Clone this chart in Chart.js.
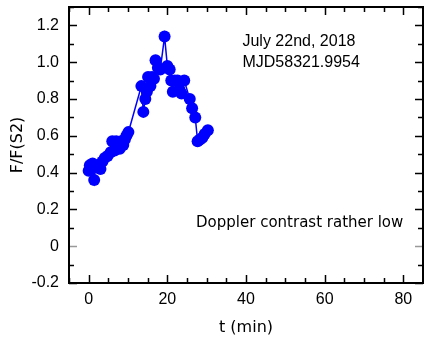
<!DOCTYPE html>
<html>
<head>
<meta charset="utf-8">
<script src="https://cdn.jsdelivr.net/npm/chart.js@4"></script>
<style>
  html, body { margin: 0; padding: 0; background: #fff; }
  #wrap { width: 424px; height: 337px; }
</style>
</head>
<body>
<div id="wrap"><canvas id="c"></canvas></div>
<script>
// t (min) and F/F(S2)
const tMin = [0.0, 0.3, 1.0, 1.4, 1.8, 2.4, 3.0, 3.5, 4.1, 4.8, 5.6, 6.0, 6.6, 7.0, 7.4, 7.9, 8.3, 8.8, 9.2, 9.6, 10.1,
  13.4, 13.9, 14.4, 14.8, 15.1, 15.7, 16.1, 16.6, 17.0, 17.6, 18.2, 19.3, 20.0, 20.6, 21.0, 21.4, 21.9, 22.6, 23.1, 23.6, 24.3,
  25.7, 26.3, 27.1, 27.7, 28.3, 28.9, 29.5, 30.3];
const ratio = [0.41, 0.44, 0.45, 0.36, 0.43, 0.44, 0.42, 0.46, 0.48, 0.49, 0.51, 0.57, 0.52, 0.57, 0.55, 0.53, 0.57, 0.55, 0.58, 0.60, 0.62,
  0.87, 0.73, 0.80, 0.84, 0.92, 0.87, 0.92, 0.91, 1.01, 0.97, 0.96, 1.14, 0.98, 0.96, 0.90, 0.84, 0.90, 0.90, 0.85, 0.83, 0.90,
  0.80, 0.75, 0.70, 0.57, 0.58, 0.59, 0.61, 0.63];

const xTicks = [0, 20, 40, 60, 80];
const yTicks = [-0.2, 0, 0.2, 0.4, 0.6, 0.8, 1.0, 1.2];

const dateNote = ['July 22nd, 2018', 'MJD58321.9954'];
const contrastNote = 'Doppler contrast rather low';

const points = tMin.map((t, i) => ({ x: t, y: ratio[i] }));

const frame = {
  id: 'frame',
  afterDraw(chart) {
    const { ctx, chartArea: a, scales: { x, y } } = chart;
    ctx.save();
    // inward ticks
    ctx.lineWidth = 1.5;
    for (let v = -5; v <= 85; v += 5) {
      const px = Math.round(x.getPixelForValue(v)) + 0.5;
      const len = v % 20 === 0 ? 8 : 5;
      ctx.strokeStyle = '#000';
      ctx.beginPath();
      ctx.moveTo(px, a.bottom); ctx.lineTo(px, a.bottom - len);
      ctx.moveTo(px, a.top); ctx.lineTo(px, a.top + len);
      ctx.stroke();
    }
    for (let k = -2; k <= 13; k++) {
      const v = k / 10;
      const py = Math.round(y.getPixelForValue(v)) + 0.5;
      const len = k % 2 === 0 ? 8 : 5;
      ctx.strokeStyle = k === 0 ? '#999' : '#000';
      ctx.beginPath();
      ctx.moveTo(a.left, py); ctx.lineTo(a.left + len, py);
      ctx.moveTo(a.right, py); ctx.lineTo(a.right - len, py);
      ctx.stroke();
    }
    // box
    ctx.strokeStyle = '#000';
    ctx.lineWidth = 2;
    ctx.strokeRect(a.left, a.top, a.right - a.left, a.bottom - a.top);

    // notes
    ctx.fillStyle = '#000';
    ctx.textBaseline = 'middle';
    ctx.textAlign = 'left';
    ctx.font = '16px "Liberation Sans", Arial, sans-serif';
    ctx.fillText(dateNote[0], x.getPixelForValue(39.1), y.getPixelForValue(1.11));
    ctx.fillText(dateNote[1], x.getPixelForValue(39.1), y.getPixelForValue(1.0));
    ctx.font = '15px "DejaVu Sans", sans-serif';
    ctx.fillText(contrastNote, x.getPixelForValue(27.3), y.getPixelForValue(0.128));
    ctx.restore();
  }
};

new Chart(document.getElementById('c'), {
  type: 'scatter',
  data: {
    datasets: [{
      data: points,
      showLine: true,
      borderColor: '#0000ff',
      borderWidth: 1.5,
      backgroundColor: '#0000ff',
      pointRadius: 6,
      pointBorderWidth: 0,
      pointHoverRadius: 6
    }]
  },
  options: {
    responsive: true,
    maintainAspectRatio: false,
    animation: false,
    events: [],
    layout: { autoPadding: false, padding: { top: 7, right: 1, left: 0, bottom: 0 } },
    plugins: { legend: { display: false }, tooltip: { enabled: false } },
    scales: {
      x: {
        type: 'linear',
        min: -5,
        max: 85,
        grid: { display: false, drawTicks: false },
        border: { display: false },
        afterBuildTicks: s => { s.ticks = xTicks.map(v => ({ value: v })); },
        afterFit: s => { s.height = 54; s.paddingLeft = 0; s.paddingRight = 0; },
        ticks: {
          padding: 7,
          color: '#000',
          font: { family: '"Liberation Sans", Arial, sans-serif', size: 16 },
          callback: v => String(v)
        },
        title: {
          display: true,
          text: 't (min)',
          color: '#000',
          padding: 0,
          font: { family: '"DejaVu Sans", sans-serif', size: 16 }
        }
      },
      y: {
        type: 'linear',
        min: -0.2,
        max: 1.3,
        grid: { display: false, drawTicks: false },
        border: { display: false },
        afterBuildTicks: s => { s.ticks = yTicks.map(v => ({ value: v })); },
        afterFit: s => { s.width = 69; s.paddingTop = 0; s.paddingBottom = 0; },
        ticks: {
          padding: 10,
          color: '#000',
          font: { family: '"Liberation Sans", Arial, sans-serif', size: 16 },
          callback: v => (Math.abs(v) < 1e-9 ? '0' : v.toFixed(1))
        },
        title: {
          display: true,
          text: 'F/F(S2)',
          color: '#000',
          padding: { top: 8 },
          font: { family: '"DejaVu Sans", sans-serif', size: 16 }
        }
      }
    }
  },
  plugins: [frame]
});
</script>
</body>
</html>
